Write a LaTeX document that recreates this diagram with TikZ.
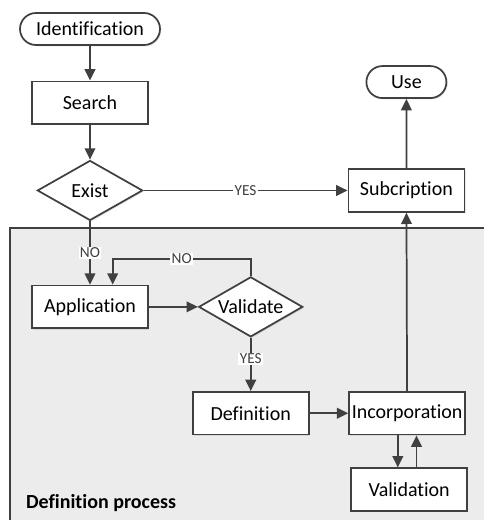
\documentclass[tikz,border=0pt]{standalone}
\usepackage{fontspec}
\setmainfont{Carlito}[Ligatures=NoCommon]
\usepackage{tikz}
\usetikzlibrary{arrows.meta,positioning,shapes,shadows,calc}
\usepackage{xcolor}
\definecolor{lineg}{HTML}{404040}
\definecolor{areag}{HTML}{ECECEC}

\begin{document}
\begin{tikzpicture}[
    font=\fontsize{15}{17}\selectfont,
    box/.style={draw=lineg,line width=1.3pt,fill=white,minimum width=87pt,minimum height=32pt,inner sep=1pt,
        drop shadow={opacity=0.2,shadow xshift=1pt,shadow yshift=-1pt}},
    term/.style={box,rounded rectangle,minimum height=24pt},
    decide/.style={box,diamond,aspect=1.75,minimum width=79pt,minimum height=45pt,inner sep=0pt},
    arr/.style={-{Triangle[length=8.5pt,width=8pt]},line width=1.3pt,lineg},
    cond/.style={font=\fontsize{11.5}{13}\selectfont,fill=white,inner sep=1pt}
]
\useasboundingbox (0,0) rectangle (363pt,-390pt);
% shaded process area
\fill[areag] (7.5pt,-171pt) rectangle (370pt,-395pt);
\draw[lineg,line width=1.3pt] (370pt,-171pt) -- (7.5pt,-171pt) -- (7.5pt,-395pt);
\node[anchor=west,font=\bfseries\fontsize{15}{17}\selectfont] (areatitle) at (16pt,-377pt) {Definition process};

\node[term,minimum width=107pt] (ident) at (67.5pt,-21.75pt) {Identification};
\node[box,below=26pt of ident] (search) {Search};
\node[decide,below=26pt of search] (exist) {Exist};
\node[box,right=153pt of exist] (subc) {Subcription};
\node[term,minimum width=62pt,above=52pt of subc] (use) {Use};
\node[box,below=47.5pt of exist] (appl) {Application};
\node[decide,minimum width=78pt,right=36.75pt of appl] (valid) {Validate};
\node[box,below=40pt of valid] (defn) {Definition};
\node[box,right=29pt of defn] (incorp) {Incorporation};
\node[box,below=24pt of incorp,xshift=1.5pt] (valn) {Validation};

\draw[arr] (ident) -- (search);
\draw[arr] (search) -- (exist);
\draw[arr] (exist) -- node[cond] {YES} (subc);
\draw[arr] (exist) -- node[cond] {NO} (appl);
\draw[arr] (valid.north) -- ++(0,12.75pt) -| node[cond,pos=0.25] {NO} ([xshift=17pt]appl.north);
\draw[arr] (appl) -- (valid);
\draw[arr] (valid) -- node[cond,pos=0.4] {YES} (defn);
\draw[arr] (defn) -- (incorp);
\draw[arr] (incorp) -- (subc);
\draw[arr] (subc) -- (use);
\draw[arr] ([xshift=-7pt]incorp.south) -- ([xshift=-7pt]incorp.south |- valn.north);
\draw[arr] ([xshift=7pt]incorp.south |- valn.north) -- ([xshift=7pt]incorp.south);
\end{tikzpicture}
\end{document}
